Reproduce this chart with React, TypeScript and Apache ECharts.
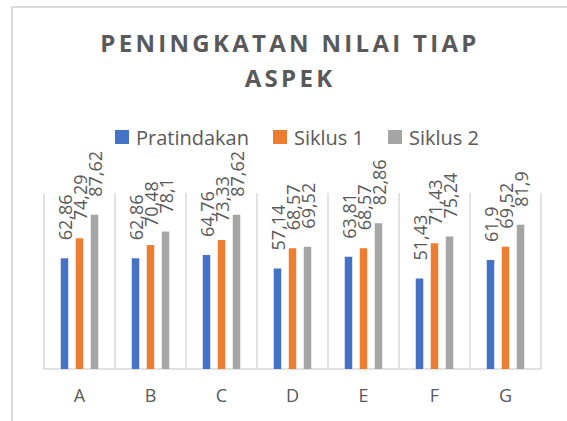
import React, { useEffect, useRef } from "react";
import * as echarts from "echarts";

const categories = ["A", "B", "C", "D", "E", "F", "G"];
const seriesNames = ["Pratindakan", "Siklus 1", "Siklus 2"];
const pratindakan = [62.86, 62.86, 64.76, 57.14, 63.81, 51.43, 61.9];
const siklus1 = [74.29, 70.48, 73.33, 68.57, 68.57, 71.43, 69.52];
const siklus2 = [87.62, 78.1, 87.62, 69.52, 82.86, 75.24, 81.9];
const colors = ["#4472C4", "#ED7D31", "#A5A5A5"];
const titleText = "PENINGKATAN NILAI TIAP\nASPEK";

const FONT = '"Open Sans", "Noto Sans", sans-serif';

export default function App() {
  const ref = useRef<HTMLDivElement>(null);
  useEffect(() => {
    if (!ref.current) return;
    const chart = echarts.init(ref.current, null, { renderer: "svg" });
    const values = [pratindakan, siklus1, siklus2];
    const option: any = {
      animation: false,
      backgroundColor: "#ffffff",
      graphic: [
        {
          type: "rect",
          shape: { x: 12, y: 7, width: 620, height: 500 },
          style: { fill: "none", stroke: "#d9d9d9", lineWidth: 2 },
          silent: true,
        },
        {
          type: "text",
          x: 290,
          y: 25,
          style: {
            text: titleText,
            textAlign: "center",
            textVerticalAlign: "top",
            fontFamily: FONT,
            fontWeight: "bold",
            fontSize: 24,
            lineHeight: 35,
            fill: "#595959",
          },
        },
      ],
      legend: {
        data: seriesNames,
        left: 110,
        top: 122,
        itemWidth: 14,
        itemHeight: 14,
        itemGap: 24,
        icon: "rect",
        textStyle: {
          color: "#595959",
          fontSize: 20,
          fontFamily: FONT,
          padding: [0, 0, 16, 2],
        },
      },
      grid: { left: 44, right: 26, top: 193, bottom: 52 },
      xAxis: {
        type: "category",
        data: categories,
        axisLine: { lineStyle: { color: "#d9d9d9", width: 1.5 } },
        axisTick: { show: false },
        splitLine: { show: true, lineStyle: { color: "#d9d9d9", width: 1.5 } },
        axisLabel: {
          color: "#595959",
          fontSize: 18,
          fontFamily: FONT,
          margin: 17,
        },
      },
      yAxis: {
        type: "value",
        min: 0,
        max: 100,
        show: false,
        splitLine: { show: false },
      },
      series: seriesNames.map((name, i) => ({
        name,
        type: "bar",
        data: values[i],
        barWidth: 7.5,
        barGap: "100%",
        itemStyle: { color: colors[i] },
        label: {
          show: true,
          position: "top",
          rotate: 90,
          align: "left",
          verticalAlign: "middle",
          distance: 18,
          color: "#595959",
          fontSize: 18,
          fontFamily: FONT,
          formatter: (p: any) => String(p.value).replace(".", ","),
        },
      })),
    };
    chart.setOption(option);
    const applySpacing = () => {
      if (!ref.current) return;
      ref.current.querySelectorAll("text").forEach((t) => {
        const s = t.textContent || "";
        if (/PENINGKATAN|ASPEK/.test(s)) {
          t.setAttribute("letter-spacing", "3.3");
        }
      });
    };
    applySpacing();
    chart.on("finished", applySpacing);
    return () => {
      chart.dispose();
    };
  }, []);
  return (
    <div
      ref={ref}
      style={{ position: "fixed", left: 0, top: 0, width: 567, height: 421 }}
    />
  );
}
